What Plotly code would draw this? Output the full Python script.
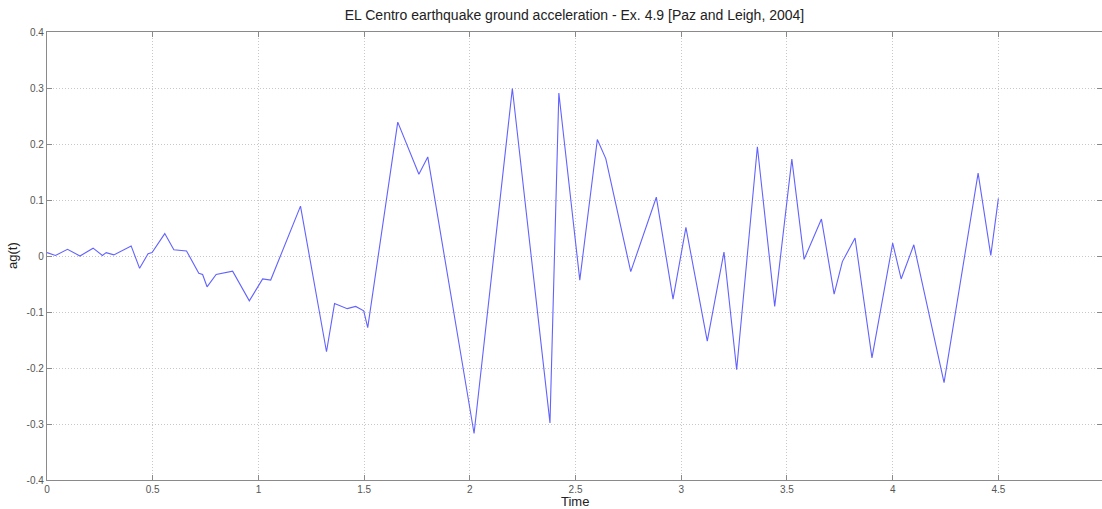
import plotly.graph_objects as go

# El Centro ground acceleration record (first 4.5 s), time in s, acceleration in g
time_s = [0.0, 0.04, 0.097, 0.156, 0.218, 0.262, 0.28, 0.316, 0.398, 0.438,
          0.478, 0.497, 0.557, 0.6, 0.66, 0.718, 0.736, 0.757, 0.8, 0.878,
          0.957, 1.02, 1.058, 1.199, 1.322, 1.36, 1.42, 1.46, 1.498, 1.517,
          1.659, 1.759, 1.801, 2.02, 2.201, 2.379, 2.421, 2.52, 2.603, 2.643,
          2.761, 2.882, 2.961, 3.022, 3.123, 3.202, 3.262, 3.36, 3.442, 3.523,
          3.581, 3.663, 3.723, 3.762, 3.822, 3.902, 4.0, 4.04, 4.1, 4.243,
          4.404, 4.464, 4.5]
accel_g = [0.006, 0.001, 0.012, 0.0, 0.014, 0.001, 0.006, 0.002, 0.018, -0.022,
           0.004, 0.006, 0.040, 0.011, 0.009, -0.031, -0.033, -0.055, -0.033, -0.027,
           -0.080, -0.041, -0.043, 0.089, -0.171, -0.085, -0.094, -0.090, -0.098, -0.128,
           0.239, 0.146, 0.177, -0.317, 0.299, -0.298, 0.291, -0.043, 0.208, 0.174,
           -0.028, 0.105, -0.077, 0.051, -0.152, 0.007, -0.203, 0.195, -0.090, 0.173,
           -0.006, 0.066, -0.068, -0.010, 0.032, -0.182, 0.023, -0.041, 0.020, -0.226,
           0.148, 0.001, 0.103]

x_ticks = [0, 0.5, 1, 1.5, 2, 2.5, 3, 3.5, 4, 4.5]
x_tick_text = ["0", "0.5", "1", "1.5", "2", "2.5", "3", "3.5", "4", "4.5"]
y_ticks = [-0.4, -0.3, -0.2, -0.1, 0, 0.1, 0.2, 0.3, 0.4]
y_tick_text = ["-0.4", "-0.3", "-0.2", "-0.1", "0", "0.1", "0.2", "0.3", "0.4"]

fig = go.Figure()
fig.add_trace(go.Scatter(
    x=time_s, y=accel_g, mode="lines",
    line=dict(color="#6262ff", width=1.1),
    showlegend=False,
))

axis_common = dict(
    showline=True, linecolor="#8a8a8a", linewidth=1.3, mirror="ticks",
    ticks="inside", ticklen=5, tickcolor="#8a8a8a", tickwidth=1.3,
    showgrid=True, gridcolor="#c8c8c8", griddash="1px,2px", gridwidth=1,
    zeroline=False,
    tickfont=dict(family="Liberation Sans, Arial, sans-serif", size=10, color="#555555"),
)

fig.update_xaxes(range=[0, 4.99], tickmode="array", tickvals=x_ticks,
                 ticktext=x_tick_text, **axis_common)
fig.update_yaxes(range=[-0.4, 0.4], tickmode="array", tickvals=y_ticks,
                 ticktext=y_tick_text, **axis_common)

fig.update_layout(
    width=1102, height=509,
    margin=dict(l=47, r=0, t=32, b=29),
    paper_bgcolor="white", plot_bgcolor="white",
    title=dict(
        text="EL Centro earthquake ground acceleration - Ex. 4.9 [Paz and Leigh, 2004]",
        x=0.5, xref="paper", y=1 - 15 / 509, yanchor="middle",
        font=dict(family="Liberation Sans, Arial, sans-serif", size=14, color="#222222"),
    ),
    annotations=[
        dict(text="Time", xref="paper", yref="paper", x=0.5, y=-21 / 448,
             xanchor="center", yanchor="middle", showarrow=False,
             font=dict(family="Liberation Sans, Arial, sans-serif", size=13, color="#222222")),
        dict(text="ag(t)", xref="paper", yref="paper", x=-35 / 1055, y=0.5,
             xanchor="center", yanchor="middle", showarrow=False, textangle=-90,
             font=dict(family="Liberation Sans, Arial, sans-serif", size=13, color="#222222")),
    ],
)

fig.write_html("out.html")
